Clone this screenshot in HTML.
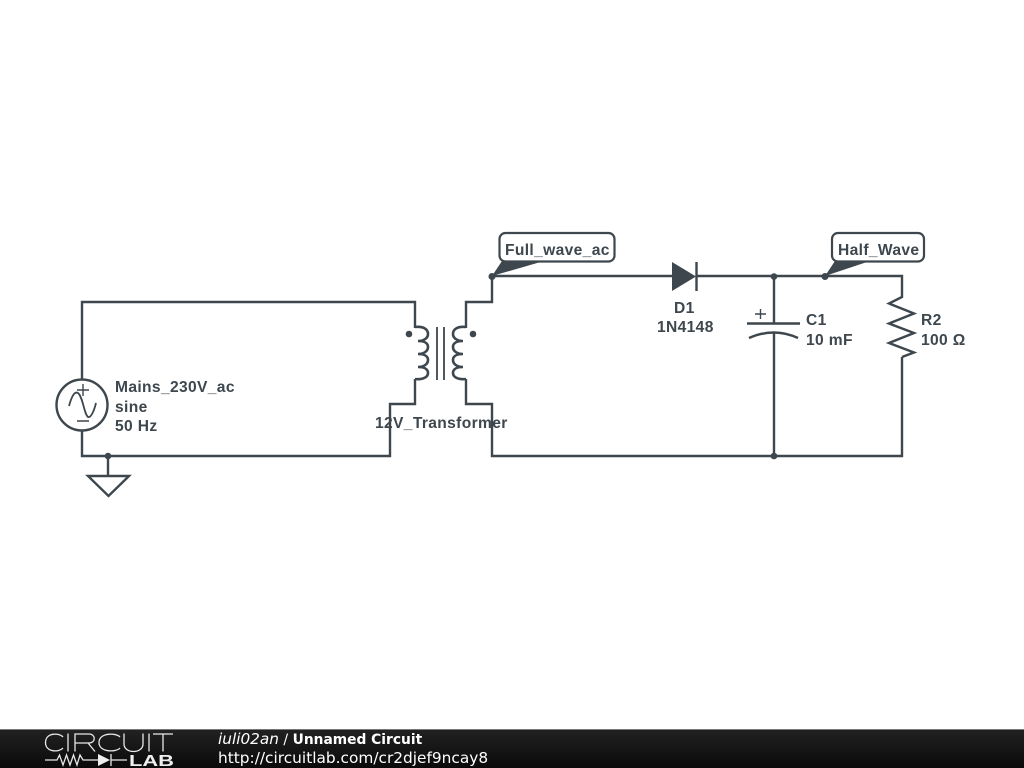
<!DOCTYPE html>
<html><head><meta charset="utf-8"><style>
html,body{margin:0;padding:0;background:#fff;width:1024px;height:768px;overflow:hidden}
svg{display:block}
.t{font-family:"Liberation Sans",sans-serif;font-weight:bold;font-size:15.6px;fill:#3d474d;letter-spacing:.35px}
.f{font-family:"DejaVu Sans",sans-serif;font-size:14px;fill:#fff}
.b{filter:blur(.35px)}
</style></head><body>
<svg width="1024" height="768" viewBox="0 0 1024 768" xmlns="http://www.w3.org/2000/svg">
<defs><linearGradient id="g" x1="0" y1="0" x2="0" y2="1"><stop offset="0" stop-color="#222"/><stop offset="1" stop-color="#0a0a0a"/></linearGradient></defs>
<rect width="1024" height="768" fill="#fff"/>
<g class="b">
<g fill="none" stroke="#3d474d" stroke-width="2.400">
<path d="M82 379V302H415V328"/>
<path d="M415 327C423 326 428 329 428 334C428 338 424 341 418 341C424 341 428 343 428 347C428 351 424 354 418 354C424 354 428 356 428 360C428 364 424 367 418 367C424 367 428 369 428 373C428 377 423 380 415 379" stroke-width="2.600"/>
<path d="M415 379V404H390V456H82V431"/>
<path d="M437 327V380M444 327V380" stroke-width="1.800"/>
<path d="M466 327C458 326 453 329 453 334C453 338 457 341 463 341C457 341 453 343 453 347C453 351 457 354 463 354C457 354 453 356 453 360C453 364 457 367 463 367C457 367 453 369 453 373C453 377 458 380 466 379" stroke-width="2.600"/>
<path d="M466 328V302H492V276H672"/>
<path d="M466 379V404H492V456H902V357"/>
<path d="M696 276H902V297L889 303.500L914 313.500L889 323.500L914 333L889 343L914 352.500L902 357"/>
<path d="M774 276V324M774 332V456"/>
<path d="M747 323.500H800"/>
<path d="M749 338Q774 327 798 338"/>
<path d="M108 456V476"/>
<path d="M88 476H129L108.500 496Z"/>
<circle cx="82" cy="405" r="25.500"/>
<path d="M696.500 262V291"/>
</g>
<g fill="none" stroke="#3d474d" stroke-width="1.400">
<path d="M77 390H89M83 384V396M77 421H89"/>
<path d="M69 406C72 395 75 391 78 393C83 397 84 414 88 417C91 418 94 411 96 403" stroke-width="1.800"/>
<path d="M755 314H766M760.500 309V319"/>
</g>
<g fill="#3d474d">
<path d="M672 262V291L696 276.500Z"/>
<circle cx="108" cy="456" r="3.300"/><circle cx="409" cy="334" r="3.300"/><circle cx="473" cy="334" r="3.300"/>
<circle cx="492" cy="276.500" r="3.500"/><circle cx="825" cy="276.500" r="3.500"/><circle cx="774" cy="276.500" r="3.300"/><circle cx="774" cy="456" r="3.300"/>
</g>
<rect x="499.500" y="233" width="115" height="28.500" rx="6" fill="#fff" stroke="#3d474d" stroke-width="2.200"/>
<rect x="832" y="233" width="92" height="28.500" rx="6" fill="#fff" stroke="#3d474d" stroke-width="2.200"/>
<path d="M492 276L502 261H544Z" fill="#3d474d"/><path d="M825 276L835 261H870Z" fill="#3d474d"/>
<text class="t" x="505" y="255">Full_wave_ac</text>
<text class="t" x="838" y="255">Half_Wave</text>
<text class="t" x="115" y="392">Mains_230V_ac</text>
<text class="t" x="115" y="412">sine</text>
<text class="t" x="115" y="431">50 Hz</text>
<text class="t" x="375" y="428">12V_Transformer</text>
<text class="t" x="674" y="313">D1</text>
<text class="t" x="657" y="332">1N4148</text>
<text class="t" x="806" y="325">C1</text>
<text class="t" x="806" y="345">10 mF</text>
<text class="t" x="921" y="325">R2</text>
<text class="t" x="921" y="345">100 Ω</text>
</g>
<rect x="0" y="729" width="1024" height="39" fill="url(#g)"/>
<rect x="0" y="729" width="1024" height="1" fill="#777"/>
<g fill="none" stroke="#e8e8e8" stroke-width="1.300">
<path d="M63 737C59 732.500 45.500 732.500 45.500 742.500C45.500 752.500 59 752.500 63 748"/>
<path d="M68 733.500V751.500"/>
<path d="M75 751.500V734H89C96 734 96 743 89 743H75M88 743L95 751.500"/>
<path d="M120 737C116 732.500 99 732.500 99 742.500C99 752.500 116 752.500 120 748"/>
<path d="M124 733.500V744C124 754 143 754 143 744V733.500"/>
<path d="M149 733.500V751.500"/>
<path d="M153 734H173M163 734V751.500"/>
<path d="M45 760H57L59.500 755L63 765L66.500 755L70 765L73.500 755L77 765L80 755L83 760H98M111 754V766M111 760H127"/>
</g>
<path d="M98 754V766L110 760Z" fill="#eee"/>
<text x="129" y="766" font-family="Liberation Sans,sans-serif" font-weight="bold" font-size="15.500" fill="#eee" textLength="45" lengthAdjust="spacingAndGlyphs">LAB</text>
<text class="f" x="218" y="744"><tspan font-style="oblique" font-size="15.300">iuli02an</tspan> / <tspan font-weight="bold" font-size="13.800">Unnamed Circuit</tspan></text>
<text class="f" x="218" y="763" style="font-size:15.370px">http://circuitlab.com/cr2djef9ncay8</text>
</svg>
</body></html>
